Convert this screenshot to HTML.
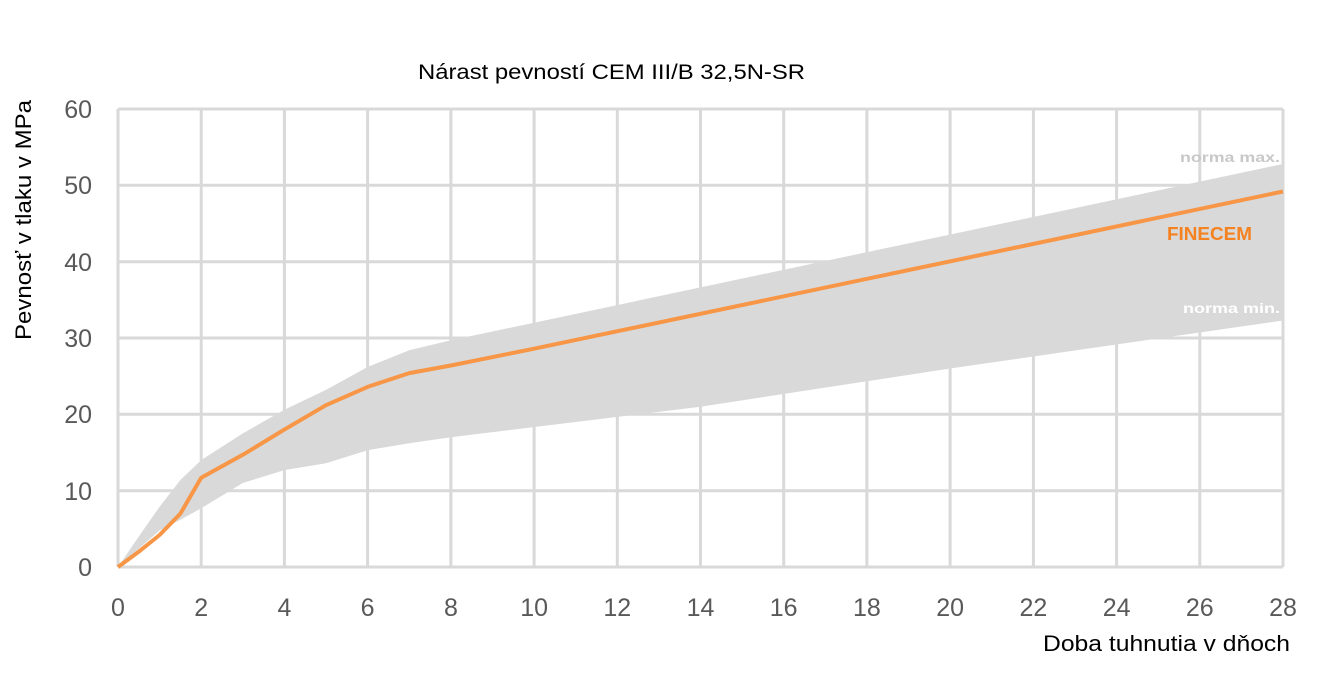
<!DOCTYPE html>
<html><head><meta charset="utf-8"><style>
body{margin:0;background:#fff;}
svg text{font-family:"Liberation Sans",sans-serif;}
</style></head><body>
<svg width="1324" height="688" xmlns="http://www.w3.org/2000/svg">
<rect width="1324" height="688" fill="#fff"/>
<g stroke="#d9d9d9" stroke-width="3">
<line x1="118" y1="109" x2="1283" y2="109"/>
<line x1="118" y1="185.3" x2="1283" y2="185.3"/>
<line x1="118" y1="261.7" x2="1283" y2="261.7"/>
<line x1="118" y1="338" x2="1283" y2="338"/>
<line x1="118" y1="414.3" x2="1283" y2="414.3"/>
<line x1="118" y1="490.7" x2="1283" y2="490.7"/>
<line x1="118" y1="567" x2="1283" y2="567"/>
<line x1="118" y1="109" x2="118" y2="567"/>
<line x1="201.2" y1="109" x2="201.2" y2="567"/>
<line x1="284.4" y1="109" x2="284.4" y2="567"/>
<line x1="367.6" y1="109" x2="367.6" y2="567"/>
<line x1="450.9" y1="109" x2="450.9" y2="567"/>
<line x1="534.1" y1="109" x2="534.1" y2="567"/>
<line x1="617.3" y1="109" x2="617.3" y2="567"/>
<line x1="700.5" y1="109" x2="700.5" y2="567"/>
<line x1="783.7" y1="109" x2="783.7" y2="567"/>
<line x1="866.9" y1="109" x2="866.9" y2="567"/>
<line x1="950.1" y1="109" x2="950.1" y2="567"/>
<line x1="1033.4" y1="109" x2="1033.4" y2="567"/>
<line x1="1116.6" y1="109" x2="1116.6" y2="567"/>
<line x1="1199.8" y1="109" x2="1199.8" y2="567"/>
<line x1="1283" y1="109" x2="1283" y2="567"/>
</g>
<path fill="#d9d9d9" d="M118,567 L138.8,536.5 L159.6,506.7 L180.4,480 L201.2,460.1 L242.8,433.4 L284.4,409.8 L326,389.9 L367.6,367 L409.2,350.2 L450.9,340.3 L1283,164 L1283,320.5 L950.1,368.5 L700.5,406.7 L450.9,437.2 L409.2,443.3 L367.6,450.2 L326,463.2 L284.4,470.1 L242.8,483 L201.2,508.2 L180.4,519.7 L159.6,530.4 L138.8,548.7 Z"/>
<polyline fill="none" stroke="#f79646" stroke-width="4" stroke-linejoin="round" points="118,567 138.8,551.7 159.6,535 180.4,513.6 201.2,477.7 242.8,454.8 284.4,429.6 326,405.2 367.6,386.9 409.2,373.1 450.9,365.5 534.1,348.7 1283,191.5"/>
<text x="418" y="79" font-size="21" fill="#000" textLength="387" lengthAdjust="spacingAndGlyphs">Nárast pevností CEM III/B 32,5N-SR</text>
<g font-size="25" fill="#595959" text-anchor="end">
<text x="92" y="118">60</text><text x="92" y="194">50</text><text x="92" y="271">40</text>
<text x="92" y="347">30</text><text x="92" y="423">20</text><text x="92" y="500">10</text><text x="92" y="576">0</text>
</g>
<g font-size="25" fill="#595959" text-anchor="middle">
<text x="118" y="616">0</text><text x="201.2" y="616">2</text><text x="284.4" y="616">4</text><text x="367.6" y="616">6</text><text x="450.9" y="616">8</text><text x="534.1" y="616">10</text><text x="617.3" y="616">12</text><text x="700.5" y="616">14</text><text x="783.7" y="616">16</text><text x="866.9" y="616">18</text><text x="950.1" y="616">20</text><text x="1033.4" y="616">22</text><text x="1116.6" y="616">24</text><text x="1199.8" y="616">26</text><text x="1283" y="616">28</text>
</g>
<text x="1043" y="651" font-size="22" fill="#000" textLength="247" lengthAdjust="spacingAndGlyphs">Doba tuhnutia v dňoch</text>
<text transform="translate(31,340) rotate(-90)" font-size="22" fill="#000" textLength="240" lengthAdjust="spacingAndGlyphs">Pevnosť v tlaku v MPa</text>
<text x="1180" y="162" font-size="14" font-weight="bold" fill="#c8c8c8" textLength="100" lengthAdjust="spacingAndGlyphs">norma max.</text>
<text x="1167" y="240" font-size="18" font-weight="bold" fill="#f58220" textLength="85" lengthAdjust="spacingAndGlyphs">FINECEM</text>
<text x="1183" y="313" font-size="14" font-weight="bold" fill="#fff" textLength="97" lengthAdjust="spacingAndGlyphs">norma min.</text>
</svg>
</body></html>
